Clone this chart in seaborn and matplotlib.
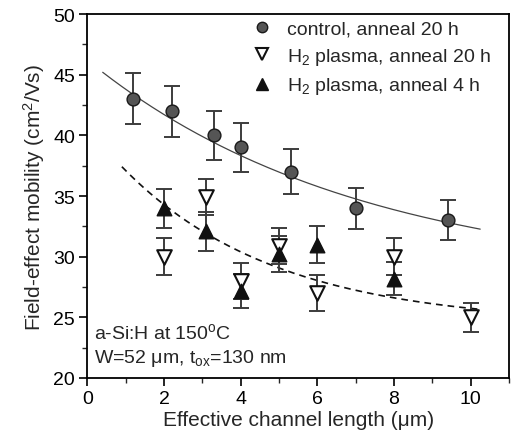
import numpy as np
import pandas as pd
import matplotlib
matplotlib.use("Agg")
import matplotlib.pyplot as plt
from matplotlib.ticker import MultipleLocator
from matplotlib.lines import Line2D
import seaborn as sns

# Field-effect mobility vs. effective channel length
control_L = [1.2, 2.2, 3.3, 4.0, 5.3, 7.0, 9.4]
control_mu = [43.0, 42.0, 40.0, 39.0, 37.0, 34.0, 33.0]
control_err = [2.1, 2.1, 2.0, 2.0, 1.85, 1.7, 1.65]

h2_20h_L = [2.0, 3.1, 4.0, 5.0, 6.0, 8.0, 10.0]
h2_20h_mu = [30.0, 34.9, 28.0, 30.9, 27.0, 30.0, 25.0]
h2_20h_err = [1.5, 1.5, 1.5, 1.5, 1.5, 1.5, 1.2]

h2_4h_L = [2.0, 3.1, 4.0, 5.0, 6.0, 8.0]
h2_4h_mu = [34.0, 32.1, 27.2, 30.2, 31.0, 28.2]
h2_4h_err = [1.6, 1.6, 1.4, 1.5, 1.5, 1.4]

# exponential-decay fit curves: mu = a + b * exp(-L / c)
control_fit = dict(a=28.0, b=18.2, c=7.07, L0=0.4, L1=10.25)
h2_fit = dict(a=24.4, b=16.3, c=4.0, L0=0.9, L1=10.3)

labels = ["control, anneal 20 h",
          "H$_2$ plasma, anneal 20 h",
          "H$_2$ plasma, anneal 4 h"]

sns.set_style("ticks")
plt.rcParams["font.family"] = ["Liberation Sans", "DejaVu Sans"]
plt.rcParams["mathtext.default"] = "regular"

fig = plt.figure(figsize=(5.11, 4.39), dpi=100)
ax = fig.add_axes([0.171, 0.1367, 0.825, 0.829])

def fit_frame(p):
    L = np.linspace(p["L0"], p["L1"], 200)
    return pd.DataFrame({"L": L, "mu": p["a"] + p["b"] * np.exp(-L / p["c"])})

cf = fit_frame(control_fit)
hf = fit_frame(h2_fit)
sns.lineplot(data=cf, x="L", y="mu", ax=ax, color="#444444", lw=0.9, zorder=2)
sns.lineplot(data=hf, x="L", y="mu", ax=ax, color="#111111", lw=1.2, zorder=2)
ax.lines[-1].set_dashes((4, 3))

ebkw = dict(fmt="none", ecolor="#3c3c3c", elinewidth=1.4, capsize=5.5,
            capthick=1.4, zorder=3)
ax.errorbar(control_L, control_mu, yerr=control_err, **ebkw)
ax.errorbar(h2_20h_L, h2_20h_mu, yerr=h2_20h_err, **ebkw)
ax.errorbar(h2_4h_L, h2_4h_mu, yerr=h2_4h_err, **ebkw)

sns.scatterplot(x=control_L, y=control_mu, ax=ax, marker="o", s=85,
                color="#555555", edgecolor="#1a1a1a", linewidth=1.0, zorder=4)
sns.scatterplot(x=h2_20h_L, y=h2_20h_mu, ax=ax, marker="v", s=110,
                facecolor="white", edgecolor="#111111", linewidth=1.5, zorder=4)
sns.scatterplot(x=h2_4h_L, y=h2_4h_mu, ax=ax, marker="^", s=110,
                color="#111111", edgecolor="#111111", linewidth=1.0, zorder=5)

ax.set_xlim(0, 11)
ax.set_ylim(20, 50)
ax.xaxis.set_major_locator(MultipleLocator(2))
ax.xaxis.set_minor_locator(MultipleLocator(1))
ax.yaxis.set_major_locator(MultipleLocator(5))
ax.yaxis.set_minor_locator(MultipleLocator(2.5))
ax.tick_params(which="major", direction="out", length=6, width=1.2,
               colors="black", labelsize=14, pad=3)
ax.tick_params(which="minor", direction="out", length=3.5, width=1.0)
for s in ax.spines.values():
    s.set_visible(True)
    s.set_linewidth(1.3)
    s.set_color("black")

ax.set_xlabel("Effective channel length (μm)", fontsize=15, labelpad=2)
ax.set_ylabel("Field-effect mobility (cm$^2$/Vs)", fontsize=15, labelpad=4)

ax.text(0.015, 0.127, "a-Si:H at 150$^{o}$C", transform=ax.transAxes,
        ha="left", va="center", fontsize=14)
ax.text(0.015, 0.055, "W=52 μm, t$_{ox}$=130 nm", transform=ax.transAxes,
        ha="left", va="center", fontsize=14)

handles = [
    Line2D([], [], ls="none", marker="o", ms=7.5, mfc="#555555", mec="#1a1a1a"),
    Line2D([], [], ls="none", marker="v", ms=8, mfc="white", mec="#111111", mew=1.5),
    Line2D([], [], ls="none", marker="^", ms=8, mfc="#111111", mec="#111111"),
]
ax.legend(handles, labels, loc="upper left", bbox_to_anchor=(0.365, 1.012),
          frameon=False, handlelength=1.0, handletextpad=0.8,
          labelspacing=0.42, borderaxespad=0.15, fontsize=14)

fig.savefig("out.png", dpi=100)
